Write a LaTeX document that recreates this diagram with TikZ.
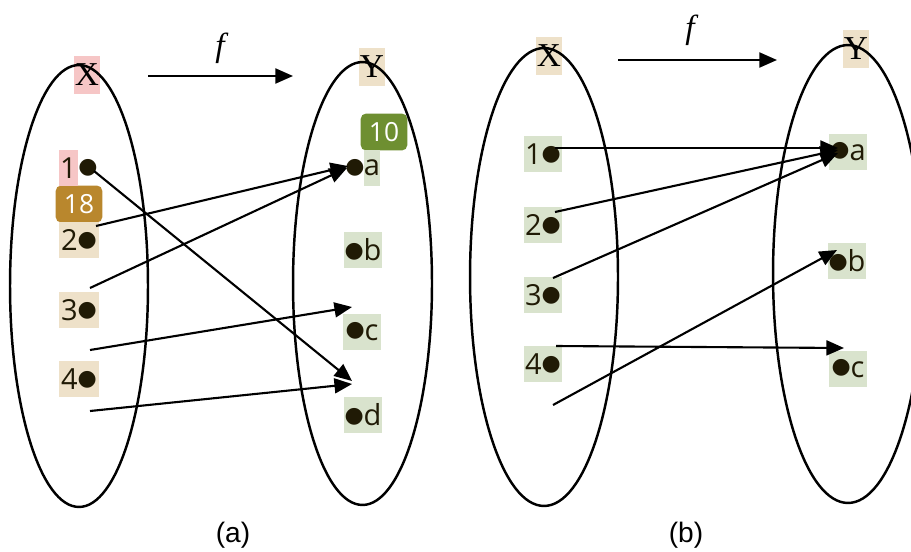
\documentclass[tikz,border=0pt]{standalone}
\usepackage{fontspec}
\setmainfont{Liberation Serif}
\setsansfont{Open Sans}
\newfontfamily\capfont{Liberation Sans}
\newfontfamily\dotfont{DejaVu Sans}
\usetikzlibrary{arrows.meta, positioning}

\definecolor{pinkbg}{HTML}{F6C6C6}
\definecolor{tanbg}{HTML}{EEE1C9}
\definecolor{greenbg}{HTML}{D9E3CD}
\definecolor{badgegreen}{HTML}{6E8F31}
\definecolor{badgegold}{HTML}{B9872D}
\definecolor{ink}{HTML}{201A05}

\newcommand{\dotch}{\raisebox{2.2pt}{\dotfont\fontsize{12.5}{12.5}\selectfont ●}}

\tikzset{
  lbl/.style={font=\sffamily\fontsize{16.5}{16.5}\selectfont, text=ink, inner sep=0pt, minimum height=20pt},
  pinkbox/.style={lbl, fill=pinkbg, minimum width=10.5pt},
  tanbox/.style={lbl, fill=tanbg, minimum width=22.5pt},
  greenbox/.style={lbl, fill=greenbg, minimum width=22pt},
  pt/.style={lbl, minimum height=0pt},
  setname/.style={font=\fontsize{19}{19}\selectfont, inner sep=0pt, minimum width=15pt, minimum height=22pt, fill=#1},
  badge/.style={font=\sffamily\fontsize{15}{15}\selectfont, text=white, fill=#1, rounded corners=3pt, minimum width=26.5pt, minimum height=21pt, inner sep=0pt},
  setline/.style={line width=1.4pt},
  map/.style={line width=1.2pt, -{Triangle[length=10pt,width=8.5pt]}}
}

\begin{document}
\begin{tikzpicture}[x=0.02cm, y=-0.02cm]
  \clip (0,0) rectangle (911,551);

  % (a)
  \node[setname=pinkbg] (xa) at (87,75) {X};
  \node[setname=tanbg] (ya) at (372,67) {Y};
  \node[font=\fontsize{19}{19}\selectfont\itshape] (fa) at (220,48) {f};
  \coordinate (fa0) at (148,76);
  \coordinate (fa1) at (293,76);

  \node[badge=badgegreen] (n10) at (384,132) {10};
  \node[badge=badgegold] (n18) at (79,204) {18};

  \node[pinkbox] (a1) at (68.5,168) {1};
  \node[pt] (a1d) at (88,168) {\dotch};
  \node[tanbox] (a2) at (79,240) {2\dotch};
  \node[tanbox] (a3) at (79,310) {3\dotch};
  \node[tanbox] (a4) at (79,379) {4\dotch};

  \node[pt] (aad) at (355,168) {\dotch};
  \node[greenbox, minimum width=9pt] (aa) at (372,168) {a};
  \node[greenbox] (ab) at (363,250) {\dotch b};
  \node[greenbox] (ac) at (362,332) {\dotch c};
  \node[greenbox] (ad) at (363,415) {\dotch d};

  \draw[setline] (79,286) ellipse [x radius=1.38cm, y radius=4.42cm];
  \draw[setline] (362.5,283.5) ellipse [x radius=1.39cm, y radius=4.43cm];

  \coordinate (sa1) at (94,171);
  \coordinate (sa2) at (96,226);
  \coordinate (sa3) at (90,288);
  \coordinate (sa4) at (90,350);
  \coordinate (sa5) at (90,411);
  \coordinate (ta1) at (352,381);
  \coordinate (ta2) at (348,166);
  \coordinate (ta3) at (347,168);
  \coordinate (ta4) at (352,307);
  \coordinate (ta5) at (352,384);

  \draw[map] (fa0) -- (fa1);
  \draw[map] (sa1) -- (ta1);
  \draw[map] (sa2) -- (ta2);
  \draw[map] (sa3) -- (ta3);
  \draw[map] (sa4) -- (ta4);
  \draw[map] (sa5) -- (ta5);

  \node[font=\capfont\fontsize{16}{16}\selectfont] (capa) at (233,535) {(a)};

  % (b)
  \node[setname=tanbg] (xb) at (549,56) {X};
  \node[setname=tanbg] (yb) at (856,49) {Y};
  \node[font=\fontsize{19}{19}\selectfont\itshape] (fb) at (690,30) {f};
  \coordinate (fb0) at (618,60);
  \coordinate (fb1) at (777,60);

  \node[greenbox] (b1) at (543,154) {1\dotch};
  \node[greenbox] (b2) at (543,225) {2\dotch};
  \node[greenbox] (b3) at (543,295) {3\dotch};
  \node[greenbox] (b4) at (543,364) {4\dotch};

  \node[greenbox] (ba) at (848,152) {\dotch a};
  \node[greenbox] (bb) at (847,261) {\dotch b};
  \node[greenbox] (bc) at (848,369) {\dotch c};

  \draw[setline] (544,277) ellipse [x radius=1.48cm, y radius=4.58cm];
  \draw[setline] (848,274) ellipse [x radius=1.5cm, y radius=4.58cm];

  \coordinate (sb1) at (555,148);
  \coordinate (sb2) at (555,212);
  \coordinate (sb3) at (553,278);
  \coordinate (sb4) at (556,346);
  \coordinate (sb5) at (553,405);
  \coordinate (tb1) at (838,148);
  \coordinate (tb2) at (838,150);
  \coordinate (tb3) at (838,153);
  \coordinate (tb4) at (844,348);
  \coordinate (tb5) at (837,250);

  \draw[map] (fb0) -- (fb1);
  \draw[map] (sb1) -- (tb1);
  \draw[map] (sb2) -- (tb2);
  \draw[map] (sb3) -- (tb3);
  \draw[map] (sb4) -- (tb4);
  \draw[map] (sb5) -- (tb5);

  \node[font=\capfont\fontsize{16}{16}\selectfont] (capb) at (686,535) {(b)};
\end{tikzpicture}
\end{document}
